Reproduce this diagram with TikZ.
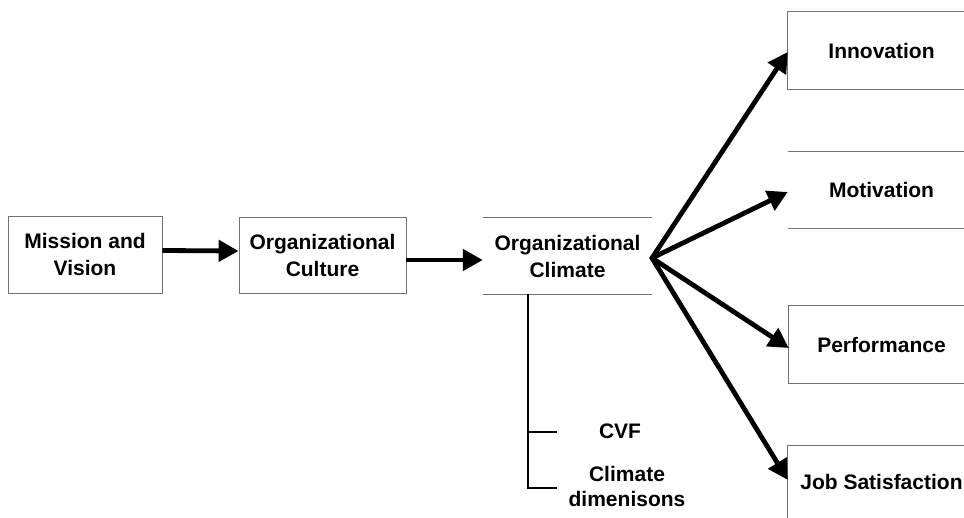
\documentclass[tikz,border=0pt]{standalone}
\usepackage{fontspec}
\setmainfont{Liberation Sans}
\usetikzlibrary{arrows.meta}
\begin{document}
\begin{tikzpicture}[x=1pt,y=-1pt,
  lab/.style={font=\fontsize{21}{27}\selectfont\bfseries, align=center, inner sep=0pt},
  frame/.style={draw=black!55, line width=0.8pt},
  edge/.style={draw=black!55, line width=0.8pt},
  bigarrow/.style={line width=4.8pt, -{Triangle[length=20pt,width=21pt]}},
  tree/.style={line width=2.7pt}]
\useasboundingbox (0,0) rectangle (964,518);
\clip (0,0) rectangle (964,518);
\fill[white] (0,0) rectangle (964,518);

% left chain
\node[lab, frame, minimum width=154pt, minimum height=77pt] (mission) at (85,254.5) {Mission and\\Vision};
\node[lab, frame, minimum width=167pt, minimum height=76pt] (culture) at (322.5,255) {Organizational\\Culture};
\node[lab, minimum width=169pt, minimum height=76pt] (climate) at (567.5,256) {Organizational\\Climate};
\draw[edge] (climate.north west) -- (climate.north east);
\draw[edge] (climate.south west) -- (climate.south east);

% right outcomes
\node[lab, minimum width=187pt, minimum height=77pt] (inno) at (881.5,50.5) {Innovation};
\draw[edge] (inno.north east) -- (inno.north west) -- (inno.south west) -- (inno.south east);
\node[lab, minimum width=187pt, minimum height=76pt] (moti) at (881.5,190) {Motivation};
\draw[edge] (moti.north west) -- (moti.north east);
\draw[edge] (moti.south west) -- (moti.south east);
\node[lab, minimum width=185pt, minimum height=77pt] (perf) at (881.5,344.5) {Performance};
\draw[edge] (perf.north east) -- (perf.north west) -- (perf.south west) -- (perf.south east);
\node[lab, minimum width=187pt, minimum height=72pt] (job) at (881.5,482) {Job Satisfaction};
\draw[edge] (job.north east) -- (job.north west) -- (job.south west);

% arrows
\draw[bigarrow] ([yshift=4pt]mission.east) -- ([yshift=4pt]culture.west);
\draw[bigarrow] ([yshift=-5pt]culture.east) -- ([yshift=-4pt]climate.west);
\coordinate (fan) at (652,258);
\draw[bigarrow, line cap=round] (fan) -- ([yshift=-1.5pt]inno.west);
\draw[bigarrow, line cap=round] (fan) -- ([yshift=-2pt]moti.west);
\draw[bigarrow, line cap=round] (fan) -- ([yshift=-3.5pt]perf.west);
\draw[bigarrow, line cap=round] (fan) -- ([yshift=2pt]job.west);

% climate tree
\coordinate (t0) at (528,294);
\coordinate (t1) at (528,432);
\coordinate (t2) at (528,488);
\coordinate (e1) at (557,432);
\coordinate (e2) at (557,488);
\draw[tree] (t0) -- (t2) -- (e2);
\draw[tree] (t1) -- (e1);
\node[lab] (cvf) at (620,431) {CVF};
\node[lab, font=\fontsize{21}{25}\selectfont\bfseries] (dims) at (627,486) {Climate\\dimenisons};
\end{tikzpicture}
\end{document}
